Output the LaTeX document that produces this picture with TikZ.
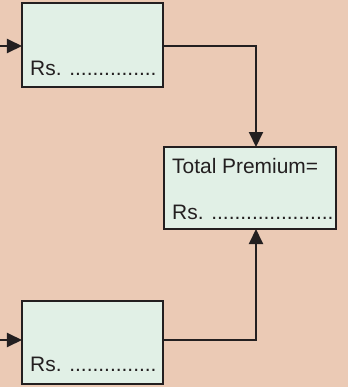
\documentclass[tikz,border=0pt]{standalone}
\usepackage{fontspec}
\setmainfont{Liberation Sans}
\usetikzlibrary{arrows.meta,calc}
\definecolor{bgc}{HTML}{EBCAB5}
\definecolor{boxc}{HTML}{E1F0E6}
\definecolor{inkc}{HTML}{231F20}
\begin{document}
\begin{tikzpicture}[x=1bp,y=-1bp,
  box/.style={draw=inkc,line width=2bp,fill=boxc,inner sep=0pt,outer sep=0pt},
  lbl/.style={anchor=base west,inner sep=0pt,text=inkc,font=\fontsize{21}{25}\selectfont},
  conn/.style={draw=inkc,line width=2bp},
  tip/.style={-{Triangle[length=15bp,width=14bp]}}]
\fill[bgc] (0,0) rectangle (348,387);
\useasboundingbox (0,0) rectangle (348,387);
\node[box,minimum width=141bp,minimum height=84bp] (top) at (92.5,45) {};
\node[box,minimum width=172bp,minimum height=82bp] (total) at (250,188) {};
\node[box,minimum width=141bp,minimum height=83bp] (bot) at (92.5,342.5) {};
\node[lbl] (t1) at (30,75) {Rs. ...............};
\node[lbl] (t2) at (172,173) {Total Premium=};
\node[lbl] (t3) at (172,219) {Rs. .....................};
\node[lbl] (t4) at (30,371) {Rs. ...............};
\coordinate (inA) at (0,46);
\coordinate (inB) at (0,340);
\coordinate (tt) at ([xshift=6bp]total.north);
\coordinate (tb) at ([xshift=6bp]total.south);
\draw[conn,tip] (inA) -- (inA -| top.west);
\draw[conn,tip] (inB) -- (inB -| bot.west);
\draw[conn,tip] (top.east |- inA) -| (tt);
\draw[conn,tip] (bot.east |- inB) -| (tb);
\end{tikzpicture}
\end{document}
